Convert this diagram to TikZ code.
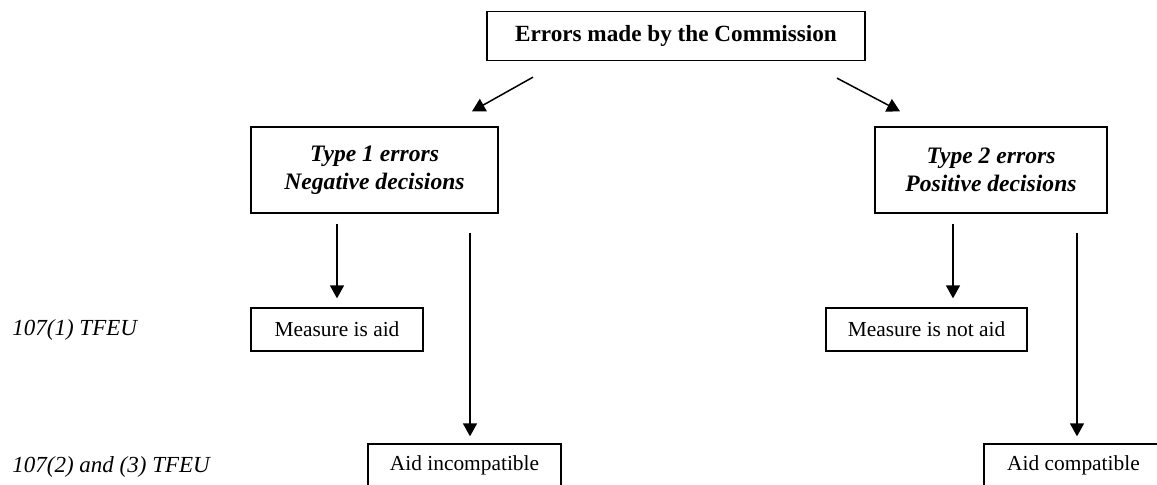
\documentclass[tikz,border=0pt]{standalone}
\usepackage{fontspec}
\setmainfont{Liberation Serif}
\usetikzlibrary{arrows.meta,calc}

\begin{document}
\begin{tikzpicture}[x=0.5pt,y=-0.5pt]
\tikzstyle{box}=[draw,line width=0.65pt,inner sep=0pt,align=center,font=\fontsize{10.7}{13}\selectfont]
\tikzstyle{kind}=[box,minimum width=120pt,minimum height=43pt,font=\fontsize{11.8}{14}\selectfont\bfseries\itshape]
\tikzstyle{outcome}=[box,minimum height=21.5pt]
\tikzstyle{article}=[anchor=west,inner sep=0pt,font=\fontsize{11.5}{14}\selectfont\itshape]
\tikzstyle{arr}=[line width=0.75pt,-{Triangle[length=6.5pt,width=7pt]}]
\useasboundingbox (0,0) rectangle (1157,484);
% top
\node[box,minimum width=189pt,minimum height=24.5pt,font=\fontsize{11.6}{14}\selectfont\bfseries] (errors) at (676,36) {Errors made by the Commission};
% the two kinds of errors
\node[kind,minimum width=123.5pt] (type1) at (374.5,170) {Type 1 errors\\Negative decisions};
\node[kind,minimum width=116pt] (type2) at (991,170) {Type 2 errors\\Positive decisions};
% outcomes
\node[outcome,minimum width=86pt] (aid) at (337,329.5) {Measure is aid};
\node[outcome,minimum width=100.5pt] (notaid) at (926.5,329.5) {Measure is not aid};
\node[outcome,minimum width=96.5pt] (incomp) at (464.5,465.5) {Aid incompatible};
\node[outcome,minimum width=89.5pt] (compat) at (1073.5,465.5) {Aid compatible};
% row labels
\foreach \name/\y/\txt in {art1/330/107(1) TFEU, art2/467/107(2) and (3) TFEU}
	\node[article] (\name) at (12,\y) {\txt};
\draw[arr] ($(errors.south)+(-143,16)$) -- ($(type1.north)+(97.5,-15)$);
\draw[arr] ($(errors.south)+(161,17)$) -- ($(type2.north)+(-91,-15)$);
\draw[arr,shorten <=5pt,shorten >=4.5pt] (aid.north |- type1.south) -- (aid.north);
\draw[arr,shorten <=9.5pt,shorten >=3.5pt] ([xshift=2.75pt]incomp.north |- type1.south) -- ([xshift=2.75pt]incomp.north);
\draw[arr,shorten <=5pt,shorten >=4.5pt] ([xshift=13.25pt]notaid.north |- type2.south) -- ([xshift=13.25pt]notaid.north);
\draw[arr,shorten <=9.5pt,shorten >=3.5pt] ([xshift=1.75pt]compat.north |- type2.south) -- ([xshift=1.75pt]compat.north);
\end{tikzpicture}
\end{document}
